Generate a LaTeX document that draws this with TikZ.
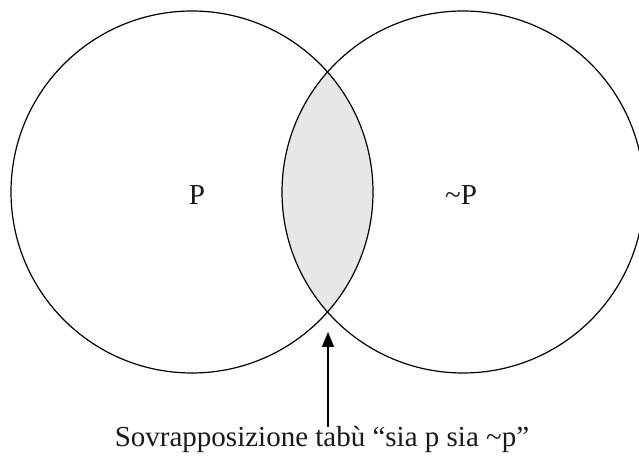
\documentclass[tikz,border=0pt]{standalone}
\usepackage{fontspec}
\setmainfont{Liberation Serif}
\usetikzlibrary{arrows.meta}
\definecolor{lens}{HTML}{E6E7E9}
\tikzset{
  ring/.style={draw=black, line width=1.2pt},
  lbltext/.style={font=\fontsize{29}{34}\selectfont, inner sep=0pt, text=black!90},
  pointer/.style={draw=black, line width=1.3pt, -{Triangle[length=15pt,width=12pt]}}
}
\begin{document}
\begin{tikzpicture}[x=1pt,y=1pt]
  \useasboundingbox (0,0) rectangle (639,457);
  \clip (0,0) rectangle (639,457);
  \coordinate (cL) at (192,265);
  \coordinate (cR) at (463,265);
  \begin{scope}
    \clip (cL) circle [radius=181];
    \fill[lens] (cR) circle [radius=181];
  \end{scope}
  \draw[ring] (cL) circle [radius=181];
  \draw[ring] (cR) circle [radius=181];
  \node[lbltext, anchor=base] (p) at (197,252) {P};
  \node[lbltext, anchor=base] (np) at (461,252) {\textasciitilde P};
  \node[lbltext, anchor=base] (lbl) at (322,10) {Sovrapposizione tabù “sia p sia \textasciitilde p”};
  \coordinate (tip) at (328,125);
  \draw[pointer] (lbl.north -| tip) -- (tip);
\end{tikzpicture}
\end{document}
